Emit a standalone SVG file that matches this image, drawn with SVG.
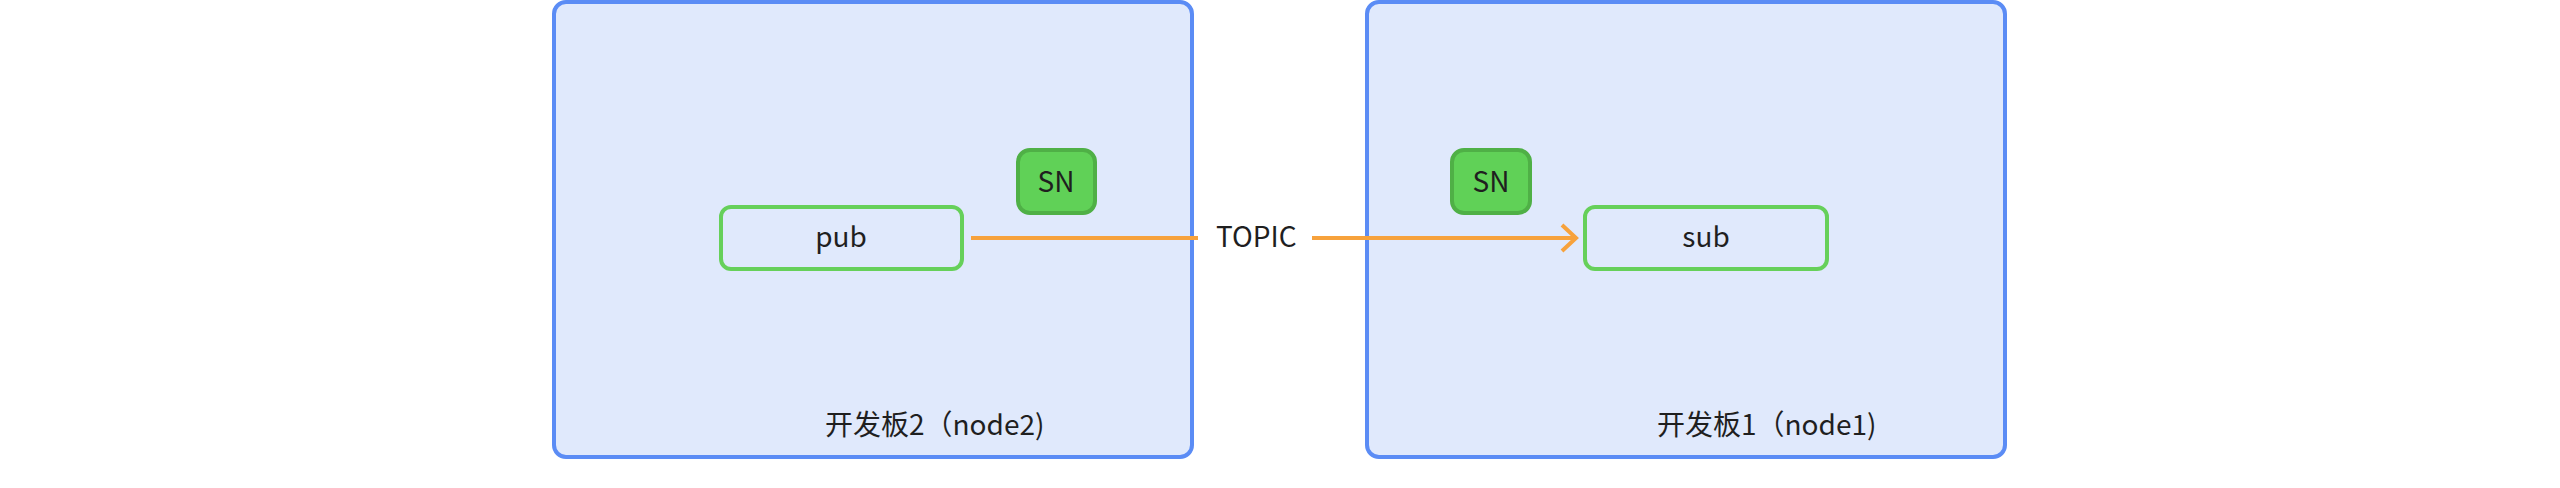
<svg xmlns="http://www.w3.org/2000/svg" width="2560" height="488" viewBox="0 0 2560 488">
<style>
.board{fill:#e0e9fc;stroke:#5b8cf5;stroke-width:4}
.proc{fill:none;stroke:#66d05a;stroke-width:4}
.sn{fill:#60d157;stroke:#4fb046;stroke-width:4}
.t{font-family:"Noto Sans CJK SC","Noto Sans",sans-serif;font-size:28px;fill:#1f1f1f}
.c{text-anchor:middle}
.edge{stroke:#f7a23c;stroke-width:4;fill:none}
</style>
<rect width="2560" height="488" fill="#ffffff"/>
<g id="node2">
<rect class="board" x="554" y="2" width="638" height="455" rx="12"/>
<text class="t" x="825" y="435">开发板2（node2)</text>
</g>
<g id="node1">
<rect class="board" x="1367" y="2" width="638" height="455" rx="12"/>
<text class="t" x="1657" y="435">开发板1（node1)</text>
</g>
<g id="pub">
<rect class="proc" x="721" y="207" width="241" height="62" rx="10"/>
<text class="t c" x="841" y="247">pub</text>
</g>
<g id="sub">
<rect class="proc" x="1585" y="207" width="242" height="62" rx="10"/>
<text class="t c" x="1706" y="247">sub</text>
</g>
<g id="sn2">
<rect class="sn" x="1018" y="150" width="77" height="63" rx="12"/>
<text class="t c" x="1056" y="192">SN</text>
</g>
<g id="sn1">
<rect class="sn" x="1452" y="150" width="78" height="63" rx="12"/>
<text class="t c" x="1491" y="192">SN</text>
</g>
<g id="connectors">
<line class="edge" x1="971" y1="238" x2="1198" y2="238"/>
<line class="edge" x1="1312" y1="238" x2="1576" y2="238"/>
<polyline class="edge" points="1562,225 1576,238 1562,251"/>
<text class="t" x="1216" y="247">TOPIC</text>
</g>
</svg>
